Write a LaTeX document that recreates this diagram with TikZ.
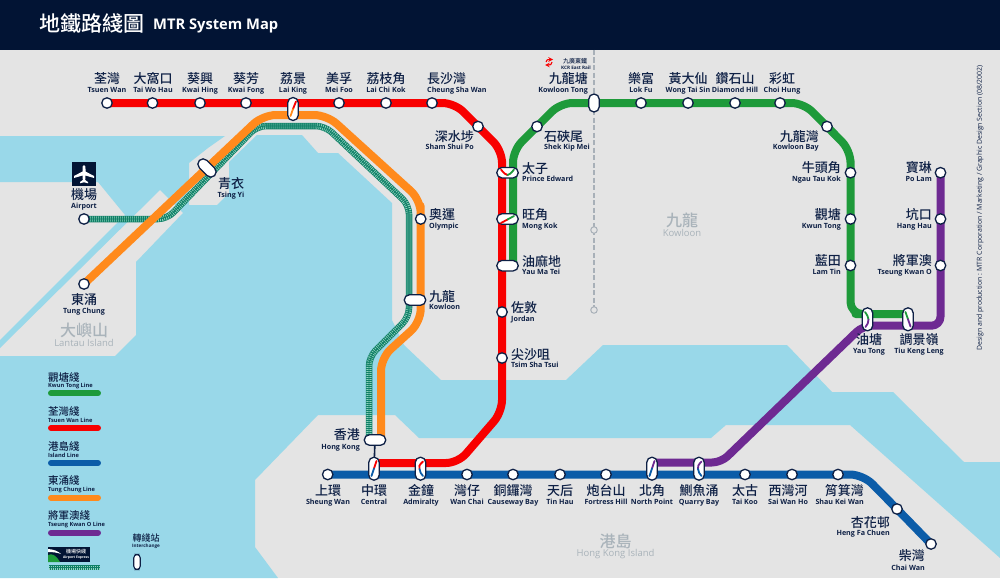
\documentclass[tikz,border=0pt]{standalone}
\usepackage{fontspec}
\setmainfont{Open Sans}
\newfontfamily\cjk{Noto Sans CJK TC}
\newfontfamily\cjkm{Noto Sans CJK TC Medium}
\definecolor{navy}{HTML}{0E2045}
\definecolor{header}{HTML}{021434}
\definecolor{land}{HTML}{E4E4E4}
\definecolor{water}{HTML}{99D8E9}
\definecolor{lred}{HTML}{F80000}
\definecolor{lgreen}{HTML}{1E9A3A}
\definecolor{lblue}{HTML}{0B5CA8}
\definecolor{lorange}{HTML}{FF8A1C}
\definecolor{lpurple}{HTML}{6E2A92}
\definecolor{lteal}{HTML}{0F7F66}
\definecolor{ltealx}{HTML}{8FD2BE}
\definecolor{region}{HTML}{A9B3BA}
\definecolor{kcr}{HTML}{A8B0B8}
\pgfdeclarelayer{sea}
\pgfdeclarelayer{tracks}
\pgfsetlayers{sea,tracks,main}
\tikzset{
  line/.style={line width=8pt,line join=round,rounded corners=#1},
  line/.default=13pt,
  stn/.style={circle,draw=navy,fill=white,line width=1.3pt,minimum size=10.5pt,inner sep=0pt},
  caph/.style={rectangle,rounded corners=5.2pt,draw=navy,fill=white,line width=1.3pt,minimum width=21.5pt,minimum height=10.5pt,inner sep=0pt},
  capv/.style={rectangle,rounded corners=5.2pt,draw=navy,fill=white,line width=1.3pt,minimum width=10.5pt,minimum height=23pt,inner sep=0pt},
  kcrstn/.style={circle,draw=kcr,fill=land,line width=1pt,minimum size=6.5pt,inner sep=0pt},
  zhlab/.style={text=navy,font=\cjkm\fontsize{13}{13}\selectfont,inner sep=0pt,text height=11pt,text depth=1.5pt},
  enlab/.style={text=navy,font=\bfseries\fontsize{7.15}{8}\selectfont,inner sep=0pt,text height=6pt,text depth=1.5pt},
  zhleg/.style={text=navy,font=\cjkm\fontsize{10.5}{11}\selectfont,inner sep=0pt,anchor=west},
  enleg/.style={text=navy,font=\bfseries\fontsize{5.7}{6}\selectfont,inner sep=0pt,anchor=west},
  legbar/.style={line width=6pt,line cap=round},
  expresspat/.style={line width=6.5pt,draw=lteal,line join=round,rounded corners=9pt,
    postaction={draw=ltealx,line width=5.4pt,dash pattern=on 0.7pt off 1.3pt},
    postaction={draw=lteal,line width=0.7pt}},
  tick/.style={line width=1.8pt,line cap=round},
}
\newcommand{\lab}[7]{% id anchor x yzh yen zh en
  \node[zhlab,anchor=#2] (#1-z) at (#3,#4) {#6};
  \node[enlab,anchor=#2] (#1-e) at (#3,#5) {#7};}
\begin{document}
\begin{tikzpicture}[x=1pt,y=-1pt]
\useasboundingbox (0,0) rectangle (1000,578);
\begin{pgfonlayer}{sea}
\fill[land] (0,0) rectangle (1000,578);
\fill[water] (0,136) -- (225,136) -- (208,148) -- (189,163) -- (189,205) -- (217,205) -- (229,193) -- (229,162) -- (257,135) -- (302,135) -- (318,153) -- (338,153) -- (392,203) -- (392,320) -- (404,345) -- (441,380) -- (566,380) -- (603,345) -- (787,345) -- (832,392) -- (893,392) -- (964,462) -- (1000,462) -- (1000,558) -- (850,425) -- (726,425) -- (711,438) -- (419,438) -- (395,415) -- (318,415) -- (255,480) -- (255,547) -- (278,578) -- (0,578) -- (0,356) -- (115,356) -- (136,335) -- (136,262) -- (183,213) -- (160,190) -- (0,348) -- (0,340) -- (125,215) -- (98,182) -- (0,182) -- cycle;
\fill[header] (0,0) rectangle (1000,50);
\end{pgfonlayer}

% title
\node[text=white,font=\cjkm\fontsize{21}{21}\selectfont,anchor=west,inner sep=0pt] (title-z) at (39,24) {地鐵路綫圖};
\node[text=white,font=\bfseries\fontsize{14.7}{15}\selectfont,anchor=west,inner sep=0pt] (title-e) at (153,26) {MTR System Map};

% stations: Tsuen Wan line
\foreach \id/\x in {tw/107,twh/152.5,kh/200,kf/246,mf/339,lck/386,csw/432}
  \node[stn] (\id) at (\x,103) {};
\node[stn] (ssp) at (478,126.5) {};
\node[stn] (jor) at (502,312) {};
\node[stn] (tst) at (502,358) {};
% Kwun Tong line
\foreach \id/\x in {lf/641,wts/688,dh/735,ch/780}
  \node[stn] (\id) at (\x,103) {};
\node[stn] (skm) at (537,126.5) {};
\node[stn] (klb) at (827,126.5) {};
\foreach \id/\y in {ntk/172.7,kt/219,lt/265.5}
  \node[stn] (\id) at (850.5,\y) {};
% TKO line
\foreach \id/\y in {pl/172.7,hh/219,tko/265.5}
  \node[stn] (\id) at (940.5,\y) {};
% Island line
\foreach \id/\x in {sw/327.7,wc/467,cb/513,th/560,fh/606,tk/745,swh/792,skw/838}
  \node[stn] (\id) at (\x,474.5) {};
\node[stn] (hfc) at (897,509) {};
\node[stn] (cw) at (931,544) {};
% Tung Chung, Airport
\node[stn] (tc) at (84,284) {};
\node[stn] (air) at (84,219) {};
\node[stn] (oly) at (420.7,219) {};
% interchanges
\node[capv] (lk) at (293,109) {};
\node[capv,minimum height=18pt] (klt) at (594,103) {};
\node[caph] (pe) at (507.5,172.7) {};
\node[caph] (mk) at (507.5,219) {};
\node[caph] (ymt) at (507.5,265.7) {};
\node[caph,rotate=-45] (ty) at (207,168) {};
\node[caph] (kln) at (415,300) {};
\node[caph] (hk) at (375,440) {};
\node[capv] (cen) at (374,468.7) {};
\node[capv] (adm) at (420.5,468.7) {};
\node[capv] (np) at (652,468.7) {};
\node[capv] (qb) at (699,468.7) {};
\node[capv] (yt) at (867.5,319.3) {};
\node[capv] (tkl) at (908,319.3) {};
% KCR
\node[kcrstn] (kcr1) at (594,230) {};
\node[kcrstn] (kcr2) at (594,310) {};
\coordinate (kcr0) at (594,50);

% marks in interchanges
\draw[tick,lred] (296,101.5) -- (293,109);
\draw[tick,lorange] (293,109) -- (290.5,116);
\draw[tick,lred] (501,169.5) .. controls (504,173.5) and (505.5,174.5) .. (507.5,175);
\draw[tick,lgreen] (514,169.5) .. controls (511,173.5) and (509.5,174.5) .. (507.5,175);
\draw[tick,lred] (501,223) -- (507.5,219.5);
\draw[tick,lgreen] (507.5,219.5) -- (514,216);
\draw[tick,lred] (376.5,461) -- (374,468.5);
\draw[tick,lblue] (374,468.5) -- (371.5,476);
\draw[tick,lred] (423,461.5) .. controls (419,465) and (418.5,467) .. (419.5,469);
\draw[tick,lblue] (419.5,469) .. controls (420,472) and (421,474) .. (423,476);
\draw[tick,lpurple] (654.5,461) -- (652,468.5);
\draw[tick,lblue] (652,468.5) -- (649.5,476);
\draw[tick,lpurple] (701.5,461.5) .. controls (698,465) and (697.5,467) .. (698,469);
\draw[tick,lblue] (698,469) .. controls (698.5,472) and (699.5,474) .. (701.5,476);
\draw[tick,lgreen] (865,312) .. controls (867,315) and (868.5,317) .. (868.5,319.5);
\draw[tick,lpurple] (868.5,319.5) .. controls (868.5,322) and (867.5,325) .. (865.5,327);
\draw[tick,lgreen] (905.5,312) -- (908,319.3);
\draw[tick,lpurple] (908,319.3) -- (910.5,326.5);

% line coordinates
\coordinate (r1) at (454.5,103);
\coordinate (r2) at (502,150.5);
\coordinate (r3) at (502,412);
\coordinate (r4) at (458,463);
\coordinate (rpe) at (502,172.7);
\coordinate (rcen) at (374,463);
\coordinate (rlk) at (293,103);
\coordinate (radm) at (420.5,463);
\coordinate (g1) at (560.5,103);
\coordinate (g2) at (513,150.5);
\coordinate (g3) at (803.5,103);
\coordinate (g4) at (850.5,150.5);
\coordinate (g5) at (850.5,314);
\coordinate (gyt) at (867.5,314);
\coordinate (gtkl) at (908,314);
\coordinate (gymt) at (513,265.7);
\coordinate (p1) at (940.5,325.7);
\coordinate (p2) at (863,325.7);
\coordinate (p3) at (721,462.5);
\coordinate (pqb) at (699,462.5);
\coordinate (pnp) at (652,462.5);
\coordinate (b1) at (863,474.5);
\coordinate (o1) at (263,115);
\coordinate (o2) at (327,115);
\coordinate (o3) at (420.7,200);
\coordinate (o4) at (420.7,322);
\coordinate (o5) at (381,358);
\coordinate (ohk) at (381,440);
\coordinate (e1) at (167,219);
\coordinate (e2) at (257,126);
\coordinate (e3) at (325,126);
\coordinate (e4) at (409,205);
\coordinate (e5) at (409,317);
\coordinate (e6) at (369,357);
\coordinate (ehk) at (369,440);

\begin{pgfonlayer}{tracks}
\draw[kcr,line width=1.6pt,dash pattern=on 5pt off 2.5pt] (kcr0) -- (kcr1.center) -- (kcr2.center);
\draw[expresspat] (air.center) -- (e1) -- (e2) -- (e3) -- (e4) -- (e5) -- (e6) -- (ehk);
\draw[line,lorange] (tc.center) -- (o1) -- (o2) -- (o3) -- (oly.center) -- (o4) -- (o5) -- (ohk);
\draw[line,lblue] (sw.center) -- (skw.center) -- (b1) -- (hfc.center) -- (cw.center);
\draw[line=12pt,lred] (tw.center) -- (rlk) -- (mf.center) -- (lck.center) -- (csw.center) -- (r1) -- (ssp.center) -- (r2) -- (rpe) -- (jor.center) -- (tst.center) -- (r3) -- (r4) -- (radm) -- (rcen);
\draw[line=12pt,lgreen] (gymt) -- (g2) -- (skm.center) -- (g1) -- (klt.center) -- (lf.center) -- (wts.center) -- (dh.center) -- (ch.center) -- (g3) -- (klb.center) -- (g4) -- (ntk.center) -- (kt.center) -- (lt.center) -- (g5) -- (gyt) -- (gtkl);
\draw[line=9pt,lpurple] (pl.center) -- (hh.center) -- (tko.center) -- (p1) -- (p2) -- (p3) -- (pqb) -- (pnp);
\draw[navy,line width=1.6pt] (hk.center) -- (cen.center);
\end{pgfonlayer}

% labels: top row
\lab{tw}{center}{107}{79}{90}{荃灣}{Tsuen Wan}
\lab{twh}{center}{153}{79}{90}{大窩口}{Tai Wo Hau}
\lab{kh}{center}{200}{79}{90}{葵興}{Kwai Hing}
\lab{kf}{center}{246}{79}{90}{葵芳}{Kwai Fong}
\lab{lk}{center}{293}{79}{90}{荔景}{Lai King}
\lab{mf}{center}{339}{79}{90}{美孚}{Mei Foo}
\lab{lck}{center}{386}{79}{90}{荔枝角}{Lai Chi Kok}
\lab{csw}{west}{427}{79}{90}{長沙灣}{Cheung Sha Wan}
\lab{klt}{east}{588}{79}{90}{九龍塘}{Kowloon Tong}
\lab{lf}{center}{641}{79}{90}{樂富}{Lok Fu}
\lab{wts}{center}{688}{79}{90}{黃大仙}{Wong Tai Sin}
\lab{dh}{center}{735}{79}{90}{鑽石山}{Diamond Hill}
\lab{ch}{center}{782}{79}{90}{彩虹}{Choi Hung}
% red / green middle
\lab{ssp}{east}{474}{137}{147}{深水埗}{Sham Shui Po}
\lab{skm}{west}{544}{137}{147}{石硤尾}{Shek Kip Mei}
\lab{pe}{west}{522}{168.7}{179}{太子}{Prince Edward}
\lab{mk}{west}{522}{215}{226}{旺角}{Mong Kok}
\lab{ymt}{west}{522}{262}{272}{油麻地}{Yau Ma Tei}
\lab{jor}{west}{511}{308}{319}{佐敦}{Jordan}
\lab{tst}{west}{511}{355}{365}{尖沙咀}{Tsim Sha Tsui}
\lab{oly}{west}{429}{215}{226}{奧運}{Olympic}
\lab{kln}{west}{429}{297}{307}{九龍}{Kowloon}
\lab{hk}{east}{360}{435}{447}{香港}{Hong Kong}
% right side
\lab{klb}{east}{819}{137}{147}{九龍灣}{Kowloon Bay}
\lab{ntk}{east}{841}{168}{179}{牛頭角}{Ngau Tau Kok}
\lab{kt}{east}{841}{215}{226}{觀塘}{Kwun Tong}
\lab{lt}{east}{841}{261}{272}{藍田}{Lam Tin}
\lab{pl}{east}{932}{168}{179}{寶琳}{Po Lam}
\lab{hh}{east}{932}{215}{226}{坑口}{Hang Hau}
\lab{tko}{east}{932}{261}{272}{將軍澳}{Tseung Kwan O}
\lab{yt}{center}{869}{340}{351}{油塘}{Yau Tong}
\lab{tkl}{center}{919}{340}{351}{調景嶺}{Tiu Keng Leng}
% island row
\lab{sw}{center}{328}{491}{502}{上環}{Sheung Wan}
\lab{cen}{center}{374}{491}{502}{中環}{Central}
\lab{adm}{center}{421}{491}{502}{金鐘}{Admiralty}
\lab{wc}{center}{467}{491}{502}{灣仔}{Wan Chai}
\lab{cb}{center}{513}{491}{502}{銅鑼灣}{Causeway Bay}
\lab{th}{center}{560}{491}{502}{天后}{Tin Hau}
\lab{fh}{center}{606}{491}{502}{炮台山}{Fortress Hill}
\lab{np}{center}{652}{491}{502}{北角}{North Point}
\lab{qb}{center}{699}{491}{502}{鰂魚涌}{Quarry Bay}
\lab{tk}{center}{745}{491}{502}{太古}{Tai Koo}
\lab{swh}{center}{788}{491}{502}{西灣河}{Sai Wan Ho}
\lab{skw}{east}{864}{491}{502}{筲箕灣}{Shau Kei Wan}
\lab{hfc}{east}{890}{523}{533}{杏花邨}{Heng Fa Chuen}
\lab{cw}{east}{925}{556}{568}{柴灣}{Chai Wan}
% left
\lab{ty}{center}{231}{184}{195}{青衣}{Tsing Yi}
\lab{air}{center}{84}{195}{206}{機場}{Airport}
\lab{tc}{center}{84}{300}{311}{東涌}{Tung Chung}
% regions
\node[text=region,font=\cjkm\fontsize{16}{16}\selectfont,inner sep=0pt] (rl-z) at (84,330) {大嶼山};
\node[text=region,font=\fontsize{9.5}{10}\selectfont,inner sep=0pt] (rl-e) at (84,343) {Lantau Island};
\node[text=region,font=\cjkm\fontsize{16}{16}\selectfont,inner sep=0pt] (rk-z) at (682,220) {九龍};
\node[text=region,font=\fontsize{9.5}{10}\selectfont,inner sep=0pt] (rk-e) at (682,233) {Kowloon};
\node[text=region,font=\cjkm\fontsize{16}{16}\selectfont,inner sep=0pt] (rh-z) at (615.5,541.5) {港島};
\node[text=region,font=\fontsize{9.5}{10}\selectfont,inner sep=0pt] (rh-e) at (615.5,554) {Hong Kong Island};
% credit
\node[text=navy,rotate=90,font=\fontsize{6.9}{7}\selectfont,inner sep=0pt] (credit) at (980,208) {Design and production : MTR Corporation / Marketing / Graphic Design Section (08/2002)};
% KCR tag
\draw[lred,line width=1.1pt,-stealth] (546,62) .. controls (546,59.5) and (548,59.5) .. (553,59.5);
\draw[lred,line width=1.1pt,-stealth] (552,62) .. controls (552,65) and (550,65) .. (545,65);
\node[text=navy,font=\cjkm\fontsize{6}{6}\selectfont,inner sep=0pt] (kcrz) at (575,61) {九廣東鐵};
\node[text=navy,font=\bfseries\fontsize{4.6}{5}\selectfont,inner sep=0pt] (kcre) at (576,67.7) {KCR East Rail};
% airport icon
\node[fill=header,minimum size=24pt,inner sep=0pt] (planebox) at (84,174) {};
\fill[white] (84,165) .. controls (85.3,165) and (85.5,167) .. (85.5,169) -- (85.5,171.5) -- (94,176) -- (94,178) -- (85.5,175.5) -- (85.2,180) -- (88,182) -- (88,183.3) -- (84,182.3) -- (80,183.3) -- (80,182) -- (82.8,180) -- (82.5,175.5) -- (74,178) -- (74,176) -- (82.5,171.5) -- (82.5,169) .. controls (82.5,167) and (82.7,165) .. (84,165) -- cycle;
% legend
\node[zhleg] (lg1z) at (48,377) {觀塘綫};
\node[enleg] (lg1e) at (48,385.7) {Kwun Tong Line};
\node[zhleg] (lg2z) at (48,411.7) {荃灣綫};
\node[enleg] (lg2e) at (48,420) {Tsuen Wan Line};
\node[zhleg] (lg3z) at (48,446.7) {港島綫};
\node[enleg] (lg3e) at (48,455) {Island Line};
\node[zhleg] (lg4z) at (48,481) {東涌綫};
\node[enleg] (lg4e) at (48,490) {Tung Chung Line};
\node[zhleg] (lg5z) at (48,515.7) {將軍澳綫};
\node[enleg] (lg5e) at (48,524.7) {Tseung Kwan O Line};
\draw[legbar,lgreen] (51,393.3) -- (98,393.3);
\draw[legbar,lred] (51,428) -- (98,428);
\draw[legbar,lblue] (51,463) -- (98,463);
\draw[legbar,lorange] (51,497.7) -- (98,497.7);
\draw[legbar,lpurple] (51,532.7) -- (98,532.7);
\fill[header] (48,547) rectangle (90,562);
\fill[lgreen] (48,562) -- (48,555) .. controls (52,553) and (56,555) .. (60,562) -- cycle;
\fill[white] (48,549) .. controls (54,549.5) and (58,551) .. (61,554) .. controls (57,552.5) and (53,552) .. (48,552) -- cycle;
\node[text=white,font=\cjkm\fontsize{5}{5}\selectfont,inner sep=0pt] (aez) at (76,551.5) {機場快綫};
\node[text=white,font=\bfseries\fontsize{3.4}{4}\selectfont,inner sep=0pt] (aee) at (76,557.5) {Airport Express};
\draw[line width=5pt,draw=lteal,postaction={draw=ltealx,line width=4pt,dash pattern=on 0.7pt off 1.3pt},postaction={draw=lteal,line width=0.6pt}] (49,567.5) -- (99.5,567.5);
\node[text=navy,font=\cjkm\fontsize{9}{9}\selectfont,inner sep=0pt] (ic-z) at (146,538) {轉綫站};
\node[text=navy,font=\bfseries\fontsize{4.6}{5}\selectfont,inner sep=0pt] (ic-e) at (146,546) {Interchange};
\node[rectangle,rounded corners=3.4pt,draw=navy,fill=white,line width=1.1pt,minimum width=6.5pt,minimum height=15pt,inner sep=0pt] (ic) at (137,562) {};
\end{tikzpicture}
\end{document}
